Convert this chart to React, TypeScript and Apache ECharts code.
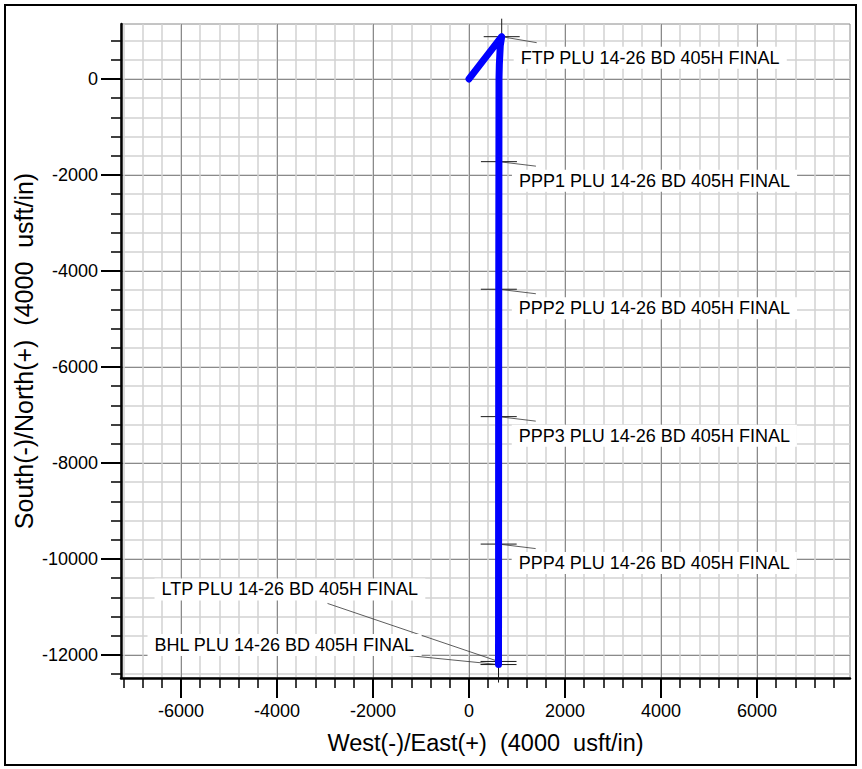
import React, { useEffect, useRef } from "react";
import * as echarts from "echarts";

// ---- axis extents and ticks ----
const X_MIN = -7250;
const X_MAX = 7937.5;
const Y_MIN = -12480;
const Y_MAX = 1145;

const X_MAJOR_TICKS = [-6000, -4000, -2000, 0, 2000, 4000, 6000];
const X_MINOR_TICKS = [
  -7200, -6800, -6400, -6000, -5600, -5200, -4800, -4400, -4000, -3600, -3200, -2800, -2400,
  -2000, -1600, -1200, -800, -400, 0, 400, 800, 1200, 1600, 2000, 2400, 2800, 3200, 3600, 4000,
  4400, 4800, 5200, 5600, 6000, 6400, 6800, 7200, 7600,
];
const Y_MAJOR_TICKS = [0, -2000, -4000, -6000, -8000, -10000, -12000];
const Y_MINOR_TICKS = [
  800, 400, 0, -400, -800, -1200, -1600, -2000, -2400, -2800, -3200, -3600, -4000, -4400, -4800,
  -5200, -5600, -6000, -6400, -6800, -7200, -7600, -8000, -8400, -8800, -9200, -9600, -10000,
  -10400, -10800, -11200, -11600, -12000, -12400,
];

// ---- well path (East, North) ----
const PATH_EAST = [0, 681, 652, 632, 625, 618, 615];
const PATH_NORTH = [0, 881, 700, 300, 0, -6000, -12200];

// ---- targets ----
const TARGET_NAMES = [
  "FTP PLU 14-26 BD 405H FINAL",
  "PPP1 PLU 14-26 BD 405H FINAL",
  "PPP2 PLU 14-26 BD 405H FINAL",
  "PPP3 PLU 14-26 BD 405H FINAL",
  "PPP4 PLU 14-26 BD 405H FINAL",
  "LTP PLU 14-26 BD 405H FINAL",
  "BHL PLU 14-26 BD 405H FINAL",
];
const TARGET_EAST = [681, 624, 622, 620, 618, 615, 615];
const TARGET_NORTH = [881, -1723, -4381, -7035, -9690, -12135, -12200];

// layout: pixel offsets of leader end (lx, ly) and label text start (tx, ty)
const LABEL_LAYOUT = [
  { lx: 35, ly: 6, tx: 19, ty: 21 },
  { lx: 37, ly: 4.5, tx: 20, ty: 19 },
  { lx: 37, ly: 4.5, tx: 20, ty: 19 },
  { lx: 37, ly: 4.5, tx: 20, ty: 19 },
  { lx: 37, ly: 4.5, tx: 20, ty: 19 },
  { lx: -171, ly: -58, tx: -337, ty: -72 },
  { lx: -90, ly: -9, tx: -344, ty: -19.5 },
];

const FONT = '"Liberation Sans", Arial, sans-serif';

export default function App() {
  const ref = useRef<HTMLDivElement>(null);

  useEffect(() => {
    if (!ref.current) return;
    const chart = echarts.init(ref.current, undefined, { renderer: "svg" });

    const minorSplit = { show: true, lineStyle: { color: "#d2d2d2", width: 1.5 } };
    const majorSplit = { show: true, lineStyle: { color: "#8a8a8a", width: 1 } };

    const option: any = {
      animation: false,
      backgroundColor: "#fff",
      grid: {
        left: 121,
        top: 24,
        width: 729,
        height: 654,
        show: true,
        borderColor: "#8a8a8a",
        borderWidth: 1,
        containLabel: false,
        outerBoundsMode: "none",
      },
      xAxis: [
        {
          type: "value",
          min: X_MIN,
          max: X_MAX,
          position: "bottom",
          axisLine: { show: false, onZero: false },
          axisTick: {
            show: true,
            customValues: X_MINOR_TICKS,
            length: 10,
            lineStyle: { color: "#000", width: 1.5 },
          },
          axisLabel: { show: false },
          splitLine: minorSplit,
        },
        {
          type: "value",
          min: X_MIN,
          max: X_MAX,
          position: "bottom",
          axisLine: { show: true, onZero: false, lineStyle: { color: "#000", width: 2.5 } },
          axisTick: {
            show: true,
            customValues: X_MAJOR_TICKS,
            length: 20,
            lineStyle: { color: "#000", width: 2 },
          },
          axisLabel: {
            show: true,
            customValues: X_MAJOR_TICKS,
            margin: 24,
            color: "#000",
            fontSize: 18,
            fontFamily: FONT,
            formatter: (v: number) => String(v),
          },
          splitLine: majorSplit,
          name: "West(-)/East(+)  (4000  usft/in)",
          nameLocation: "middle",
          nameGap: 53,
          nameMoveOverlap: false,
          nameTextStyle: { color: "#000", fontSize: 23.5, fontFamily: FONT },
        },
      ],
      yAxis: [
        {
          type: "value",
          min: Y_MIN,
          max: Y_MAX,
          position: "left",
          axisLine: { show: false, onZero: false },
          axisTick: {
            show: true,
            customValues: Y_MINOR_TICKS,
            length: 10,
            lineStyle: { color: "#000", width: 1.5 },
          },
          axisLabel: { show: false },
          splitLine: minorSplit,
        },
        {
          type: "value",
          min: Y_MIN,
          max: Y_MAX,
          position: "left",
          axisLine: { show: true, onZero: false, lineStyle: { color: "#000", width: 2.5 } },
          axisTick: {
            show: true,
            customValues: Y_MAJOR_TICKS,
            length: 20,
            lineStyle: { color: "#000", width: 2 },
          },
          axisLabel: {
            show: true,
            customValues: Y_MAJOR_TICKS,
            margin: 23,
            color: "#000",
            fontSize: 18,
            fontFamily: FONT,
            formatter: (v: number) => String(v),
          },
          splitLine: majorSplit,
          name: "South(-)/North(+)  (4000  usft/in)",
          nameLocation: "middle",
          nameGap: 85,
          nameMoveOverlap: false,
          nameTextStyle: { color: "#000", fontSize: 25, fontFamily: FONT },
        },
      ],
      series: [
        {
          type: "custom",
          xAxisIndex: 1,
          yAxisIndex: 1,
          clip: false,
          z: 2,
          silent: true,
          data: TARGET_EAST.map((e, i) => [e, TARGET_NORTH[i]]),
          encode: { x: 0, y: 1 },
          renderItem: (params: any, api: any) => {
            const i = params.dataIndex;
            const p = api.coord([api.value(0), api.value(1)]);
            const L = LABEL_LAYOUT[i];
            const mark = { stroke: "#1a1a1a", lineWidth: 1 };
            return {
              type: "group",
              children: [
                { type: "line", shape: { x1: p[0] - 18, y1: p[1], x2: p[0] + 18, y2: p[1] }, style: mark },
                { type: "line", shape: { x1: p[0], y1: p[1] - 18, x2: p[0], y2: p[1] + 18 }, style: mark },
                {
                  type: "line",
                  shape: { x1: p[0], y1: p[1], x2: p[0] + L.lx, y2: p[1] + L.ly },
                  style: { stroke: "#333", lineWidth: 0.8 },
                },
                {
                  type: "text",
                  x: p[0] + L.tx - 7,
                  y: p[1] + L.ty,
                  style: {
                    text: TARGET_NAMES[i],
                    fill: "#000",
                    fontSize: 18,
                    fontFamily: FONT,
                    align: "left",
                    verticalAlign: "middle",
                    backgroundColor: "#fff",
                    padding: [2, 7],
                  },
                },
              ],
            };
          },
        },
        {
          type: "line",
          xAxisIndex: 1,
          yAxisIndex: 1,
          z: 3,
          silent: true,
          showSymbol: false,
          symbol: "none",
          data: PATH_EAST.map((e, i) => [e, PATH_NORTH[i]]),
          lineStyle: { color: "#0000ff", width: 7, cap: "round", join: "round" },
        },
      ],
      graphic: [
        {
          type: "rect",
          silent: true,
          shape: { x: 5, y: 5, width: 851, height: 760 },
          style: { fill: "none", stroke: "#000", lineWidth: 2 },
          z: 100,
        },
      ],
    };

    chart.setOption(option);
    return () => chart.dispose();
  }, []);

  return (
    <div
      ref={ref}
      style={{ position: "absolute", left: 0, top: 0, width: 862, height: 769 }}
    />
  );
}
